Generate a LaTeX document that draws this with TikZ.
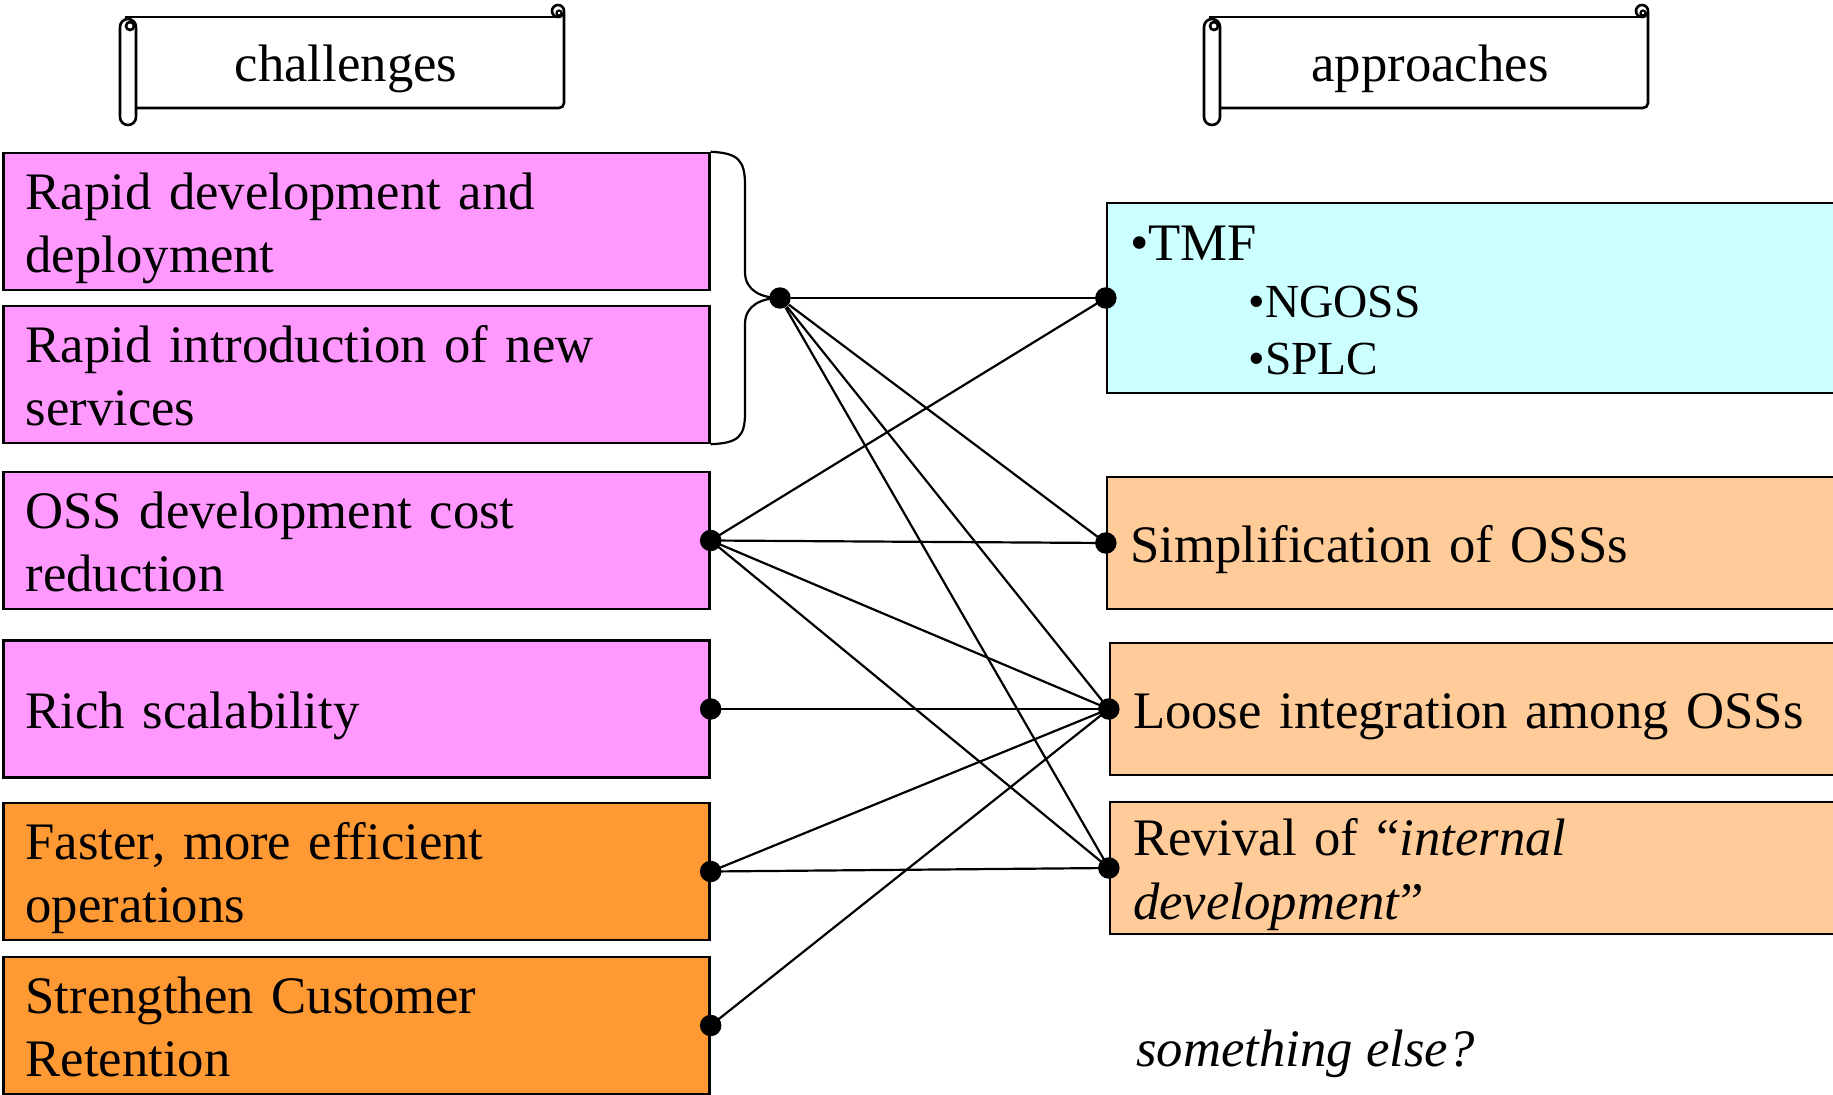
\documentclass[tikz,border=0pt]{standalone}
\usepackage{fontspec}
\setmainfont{Liberation Serif}
\usetikzlibrary{positioning}

\definecolor{chalpink}{HTML}{FF99FF}
\definecolor{chalorange}{HTML}{FF9933}
\definecolor{apprcyan}{HTML}{CCFFFF}
\definecolor{apprpeach}{HTML}{FFCC99}

% strut so that every text line sits like a slide text line
\newcommand\slidestrut{\rule[-6.6pt]{0pt}{35.3pt}}

\begin{document}
\begin{tikzpicture}[x=0.02cm, y=-0.02cm,
    box/.style={draw, line width=1.4pt, inner xsep=0.44cm, inner ysep=0pt, align=left,
        font=\fontsize{30}{35.2}\selectfont,
        execute at begin node=\slidestrut, execute at end node=\slidestrut},
    challenge/.style={box, minimum width=14.12cm, minimum height=2.74cm, text width=13.24cm},
    approach/.style={box, inner xsep=0.46cm, minimum width=14.66cm, minimum height=2.64cm, text width=13.74cm},
    dot/.style={circle, fill=black, minimum size=0.43cm, inner sep=0pt},
    link/.style={line width=1.25pt},
    scroll/.pic={
        % left roll with its curl
        \draw[line width=1.5pt] (0,27) -- (0,117) arc[start angle=180, end angle=0, radius=8]
            -- (16,27) arc[start angle=0, end angle=-180, radius=8] -- cycle;
        \draw[line width=1.5pt] (10,26) circle[radius=4];
        % sheet
        \draw[line width=1.5pt] (5,17) -- (438,17);
        \draw[line width=1.5pt] (16,108) -- (439,108) arc[start angle=90, end angle=0, radius=5] -- (444,12);
        % right curl
        \draw[line width=1.5pt] (438,11) circle[radius=6];
        \draw[line width=1.2pt] (439,13) circle[radius=2.5];
        \node[font=\fontsize{30}{36}\selectfont, anchor=base] (-label) at (226,82) {#1};
    }]

    \useasboundingbox (0,0) rectangle (1833,1095);

    % Headers
    \pic (chal) at (120,0) {scroll=challenges};
    \pic (appr) at (1204,0) {scroll=approaches};

    % Challenges
    \node[challenge, fill=chalpink] (rapiddev) at (356.5,221.5) {Rapid development and\\deployment};
    \node[challenge, fill=chalpink] (rapidsvc) at (356.5,374.5) {Rapid introduction of new\\services};
    \node[challenge, fill=chalpink] (osscost) at (356.5,540.5) {OSS development cost\\reduction};
    \node[challenge, fill=chalpink] (richscale) at (356.5,709) {Rich scalability};
    \node[challenge, fill=chalorange] (fasterops) at (356.5,871.5) {Faster, more efficient\\operations};
    \node[challenge, fill=chalorange] (retention) at (356.5,1025.5) {Strengthen Customer\\Retention};

    % Approaches
    \node[approach, fill=apprcyan, minimum height=3.8cm, font=\fontsize{30}{32.6}\selectfont] (tmf) at (1473.5,298)
        {\textbullet TMF\\
         \hspace*{2.37cm}{\fontsize{27}{32.6}\selectfont\textbullet NGOSS}\\
         \hspace*{2.37cm}{\fontsize{27}{32.6}\selectfont\textbullet SPLC}};
    \node[approach, fill=apprpeach] (simplify) at (1473.5,543) {Simplification of OSSs};
    \node[approach, fill=apprpeach] (looseint) at (1476.5,709) {Loose integration among OSSs};
    \node[approach, fill=apprpeach] (revival) at (1476.5,868) {Revival of ``\textit{internal}\\\textit{development}''};

    \node[font=\fontsize{30}{36}\selectfont\itshape, anchor=base west] (other) at (1130,1066) {something else?};

    % Bracket joining the two rapid challenges
    \node[dot] (hub) at (780,298) {};
    \draw[link] (rapiddev.north east) .. controls (738,153) and (745,160) .. (745,185)
        -- (745,272) .. controls (745,291) and (762,298) .. (hub.center);
    \draw[link] (hub.center) .. controls (762,298) and (745,305) .. (745,324)
        -- (745,413) .. controls (745,437) and (738,443) .. (rapidsvc.south east);

    % Links between challenges and approaches
    \foreach \t in {tmf, simplify, looseint, revival} {
        \draw[link] (hub) -- (\t.west);
        \draw[link] (osscost.east) -- (\t.west);
    }
    \draw[link] (richscale.east) -- (looseint.west);
    \draw[link] (fasterops.east) -- (looseint.west);
    \draw[link] (fasterops.east) -- (revival.west);
    \draw[link] (retention.east) -- (looseint.west);

    % Draw the dots
    \foreach \a in {tmf.west, simplify.west, looseint.west, revival.west,
                    osscost.east, richscale.east, fasterops.east, retention.east}
        \node[dot] at (\a) {};

\end{tikzpicture}
\end{document}
